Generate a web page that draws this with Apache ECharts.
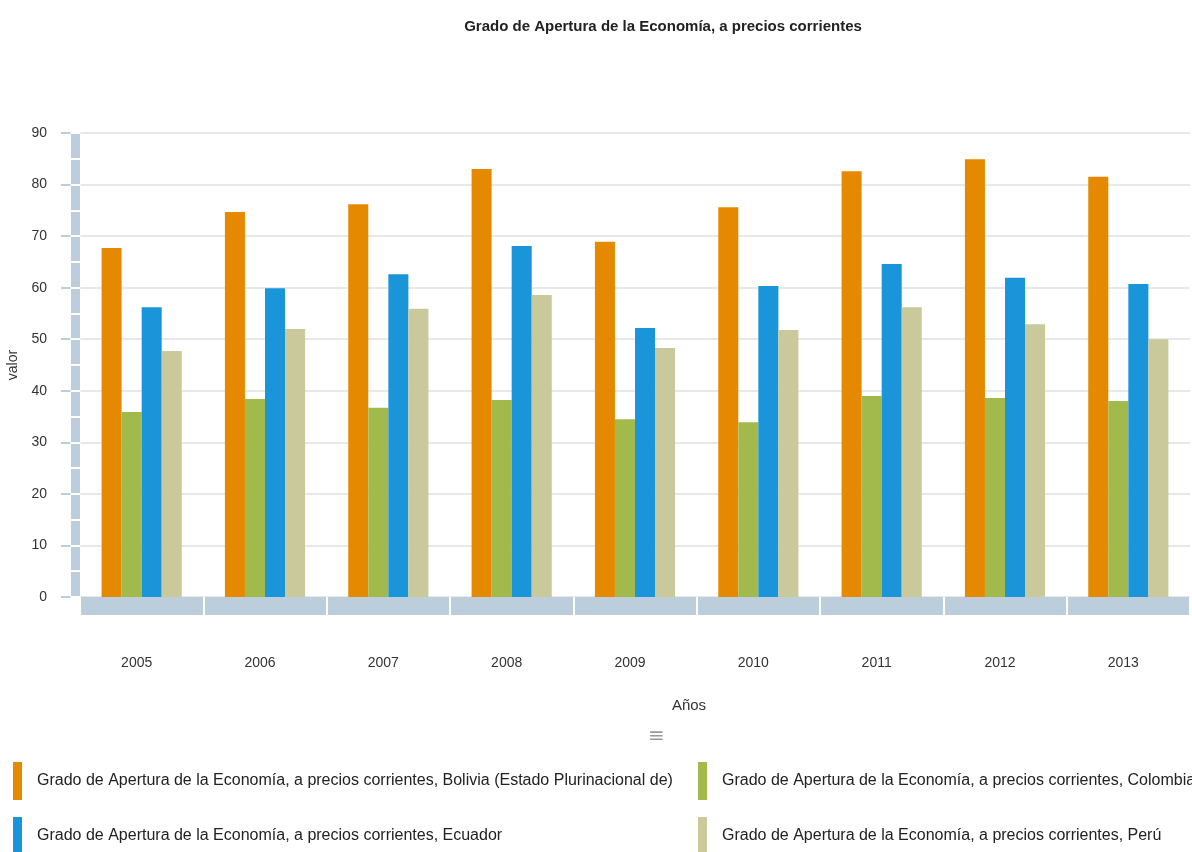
<!DOCTYPE html>
<html>
<head>
<meta charset="utf-8">
<script src="https://cdn.jsdelivr.net/npm/echarts@6/dist/echarts.min.js"></script>
<style>html,body{margin:0;padding:0;background:#fff}#c{width:1192px;height:852px}</style>
</head>
<body>
<div id="c"></div>
<script>
const titleText = 'Grado de Apertura de la Economía, a precios corrientes';
const years = ['2005','2006','2007','2008','2009','2010','2011','2012','2013'];
const seriesNames = [
  'Grado de Apertura de la Economía, a precios corrientes, Bolivia (Estado Plurinacional de)',
  'Grado de Apertura de la Economía, a precios corrientes, Colombia',
  'Grado de Apertura de la Economía, a precios corrientes, Ecuador',
  'Grado de Apertura de la Economía, a precios corrientes, Perú'
];
const bolivia  = [67.7, 74.7, 76.2, 83.0, 68.9, 75.6, 82.6, 84.9, 81.5];
const colombia = [35.9, 38.4, 36.7, 38.2, 34.5, 33.9, 39.0, 38.6, 38.0];
const ecuador  = [56.2, 59.9, 62.6, 68.1, 52.2, 60.3, 64.6, 61.9, 60.7];
const peru     = [47.7, 52.0, 55.9, 58.6, 48.3, 51.8, 56.2, 52.9, 50.0];
const colors = ['#E58A00', '#A1BA4B', '#1B95D9', '#C9C99C'];
const yTicks = {min: 0, max: 90, interval: 10};

const FONT = '"Liberation Sans Narrow", "Liberation Sans", sans-serif';
const BAND = '#BCCDDC';

const chart = echarts.init(document.getElementById('c'), null, {renderer: 'canvas'});

function yAx(extra) {
  return Object.assign({
    type: 'value', position: 'left', min: yTicks.min, max: yTicks.max, interval: yTicks.interval,
    axisLabel: {show: false}, splitLine: {show: false}, axisLine: {show: false}, axisTick: {show: false}
  }, extra);
}

const legendCommon = {
  orient: 'vertical', top: 757, height: 120, itemWidth: 9, itemHeight: 38, itemGap: 17,
  icon: 'rect', textStyle: {fontFamily: FONT, fontSize: 16, color: '#222', padding: [0, 0, 0, 10]}
};

const option = {
  backgroundColor: '#fff',
  animation: false,
  color: colors,
  title: {
    text: titleText, left: 658, top: 14, textAlign: 'center',
    textStyle: {fontFamily: FONT, fontSize: 15, fontWeight: 'bold', color: '#222'}
  },
  legend: [
    Object.assign({left: 8, data: [seriesNames[0], seriesNames[2]]}, legendCommon),
    Object.assign({left: 693, data: [seriesNames[1], seriesNames[3]]}, legendCommon)
  ],
  grid: {left: 80, top: 133, width: 1110, height: 464, containLabel: false, outerBoundsMode: 'none'},
  xAxis: [
    {
      type: 'category', data: years, position: 'bottom', offset: 9,
      axisLine: {show: true, onZero: false, lineStyle: {color: BAND, width: 18, cap: 'butt'}},
      axisTick: {show: true, inside: true, length: 9, lineStyle: {color: '#fff', width: 2}},
      axisLabel: {margin: 50, fontFamily: FONT, fontSize: 14, color: '#333', padding: [0, 10, 0, 0]},
      name: 'Años', nameLocation: 'middle', nameGap: 92,
      nameTextStyle: {fontFamily: FONT, fontSize: 15, color: '#333', padding: [0, 0, 0, 108]}
    },
    {
      type: 'category', data: years, position: 'bottom', offset: 9,
      axisLine: {show: false, onZero: false},
      axisTick: {show: true, inside: false, length: 9, lineStyle: {color: '#fff', width: 2}},
      axisLabel: {show: false}
    }
  ],
  yAxis: [
    yAx({
      offset: 9,
      axisTick: {show: true, length: 10, lineStyle: {color: BAND, width: 2}},
      axisLabel: {show: true, margin: 24, fontFamily: FONT, fontSize: 14, color: '#333'},
      splitLine: {show: true, lineStyle: {color: '#E8E8E8', width: 2}},
      name: 'valor', nameLocation: 'middle', nameGap: 49,
      nameTextStyle: {fontFamily: FONT, fontSize: 14, color: '#333'}
    }),
    yAx({
      offset: 4.5,
      axisLine: {show: true, lineStyle: {color: BAND, width: 9, cap: 'butt'}},
      axisTick: {show: true, inside: true, length: 5, lineStyle: {color: '#fff', width: 2}},
      minorTick: {show: true, splitNumber: 2, length: 5, lineStyle: {color: '#fff', width: 2}}
    }),
    yAx({
      offset: 4.5,
      axisTick: {show: true, inside: false, length: 5, lineStyle: {color: '#fff', width: 2}},
      minorTick: {show: true, splitNumber: 2, length: 5, lineStyle: {color: '#fff', width: 2}}
    })
  ],
  series: [bolivia, colombia, ecuador, peru].map((d, i) => ({
    name: seriesNames[i], type: 'bar', data: d, xAxisIndex: 0, yAxisIndex: 0,
    barGap: '0%', barCategoryGap: '35%',
    itemStyle: {color: colors[i]}
  })),
  graphic: [{
    type: 'text', left: 648, top: 727,
    style: {text: '≡', fontSize: 20, fill: '#999', fontFamily: 'DejaVu Sans'}
  }]
};
chart.setOption(option);
</script>
</body>
</html>
